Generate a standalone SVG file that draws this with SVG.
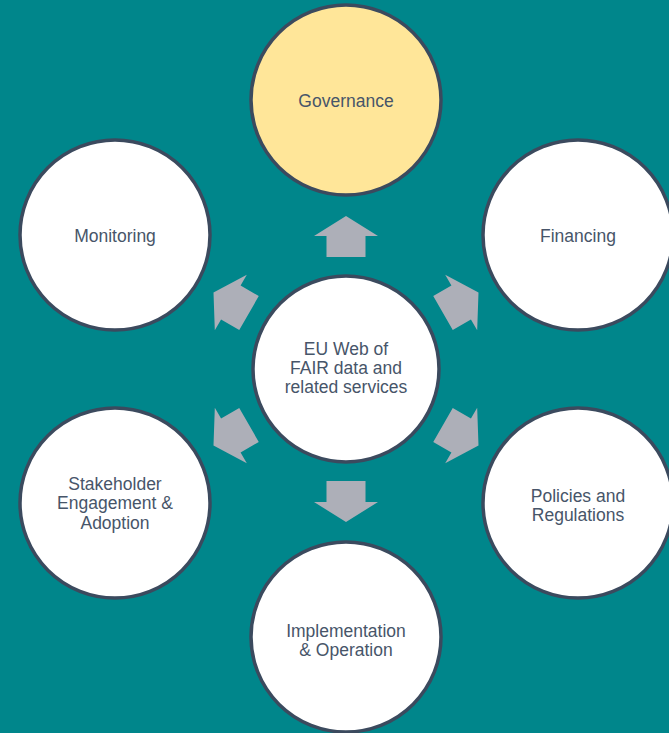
<svg xmlns="http://www.w3.org/2000/svg" width="669" height="733" viewBox="0 0 669 733">
  <defs>
    <style>
      .node { fill: #ffffff; stroke: #3b4a5e; stroke-width: 3.5; }
      .hl { fill: #ffe699; }
      .lbl { font-family: "Liberation Sans", Arial, sans-serif; font-size: 17.5px; fill: #475569; text-anchor: middle; }
      .arr { fill: #adafb8; }
    </style>
    <polygon id="arrow" class="arr" points="-19.5,-112 19.5,-112 19.5,-133 32,-133 0,-153 -32,-133 -19.5,-133"/>
  </defs>
  <rect x="0" y="0" width="669" height="733" fill="#00868b"/>
  <g id="connectors">
    <use href="#arrow" transform="translate(346,369) rotate(0)"/>
    <use href="#arrow" transform="translate(346,369) rotate(60)"/>
    <use href="#arrow" transform="translate(346,369) rotate(120)"/>
    <use href="#arrow" transform="translate(346,369) rotate(180)"/>
    <use href="#arrow" transform="translate(346,369) rotate(240)"/>
    <use href="#arrow" transform="translate(346,369) rotate(300)"/>
  </g>
  <g id="center">
    <circle class="node" cx="346" cy="369" r="93"/>
    <text class="lbl"><tspan x="346" y="355">EU Web of</tspan><tspan x="346" y="374">FAIR data and</tspan><tspan x="346" y="393">related services</tspan></text>
  </g>
  <g id="governance">
    <circle class="node hl" cx="346" cy="100" r="95"/>
    <text class="lbl" x="346" y="107">Governance</text>
  </g>
  <g id="financing">
    <circle class="node" cx="578" cy="235" r="95"/>
    <text class="lbl" x="578" y="242">Financing</text>
  </g>
  <g id="policies">
    <circle class="node" cx="578" cy="503" r="95"/>
    <text class="lbl"><tspan x="578" y="502">Policies and</tspan><tspan x="578" y="521">Regulations</tspan></text>
  </g>
  <g id="implementation">
    <circle class="node" cx="346" cy="637" r="95"/>
    <text class="lbl"><tspan x="346" y="637">Implementation</tspan><tspan x="346" y="656">&amp; Operation</tspan></text>
  </g>
  <g id="stakeholder">
    <circle class="node" cx="115" cy="503" r="95"/>
    <text class="lbl"><tspan x="115" y="490">Stakeholder</tspan><tspan x="115" y="509">Engagement &amp;</tspan><tspan x="115" y="529">Adoption</tspan></text>
  </g>
  <g id="monitoring">
    <circle class="node" cx="115" cy="235" r="95"/>
    <text class="lbl" x="115" y="242">Monitoring</text>
  </g>
</svg>
